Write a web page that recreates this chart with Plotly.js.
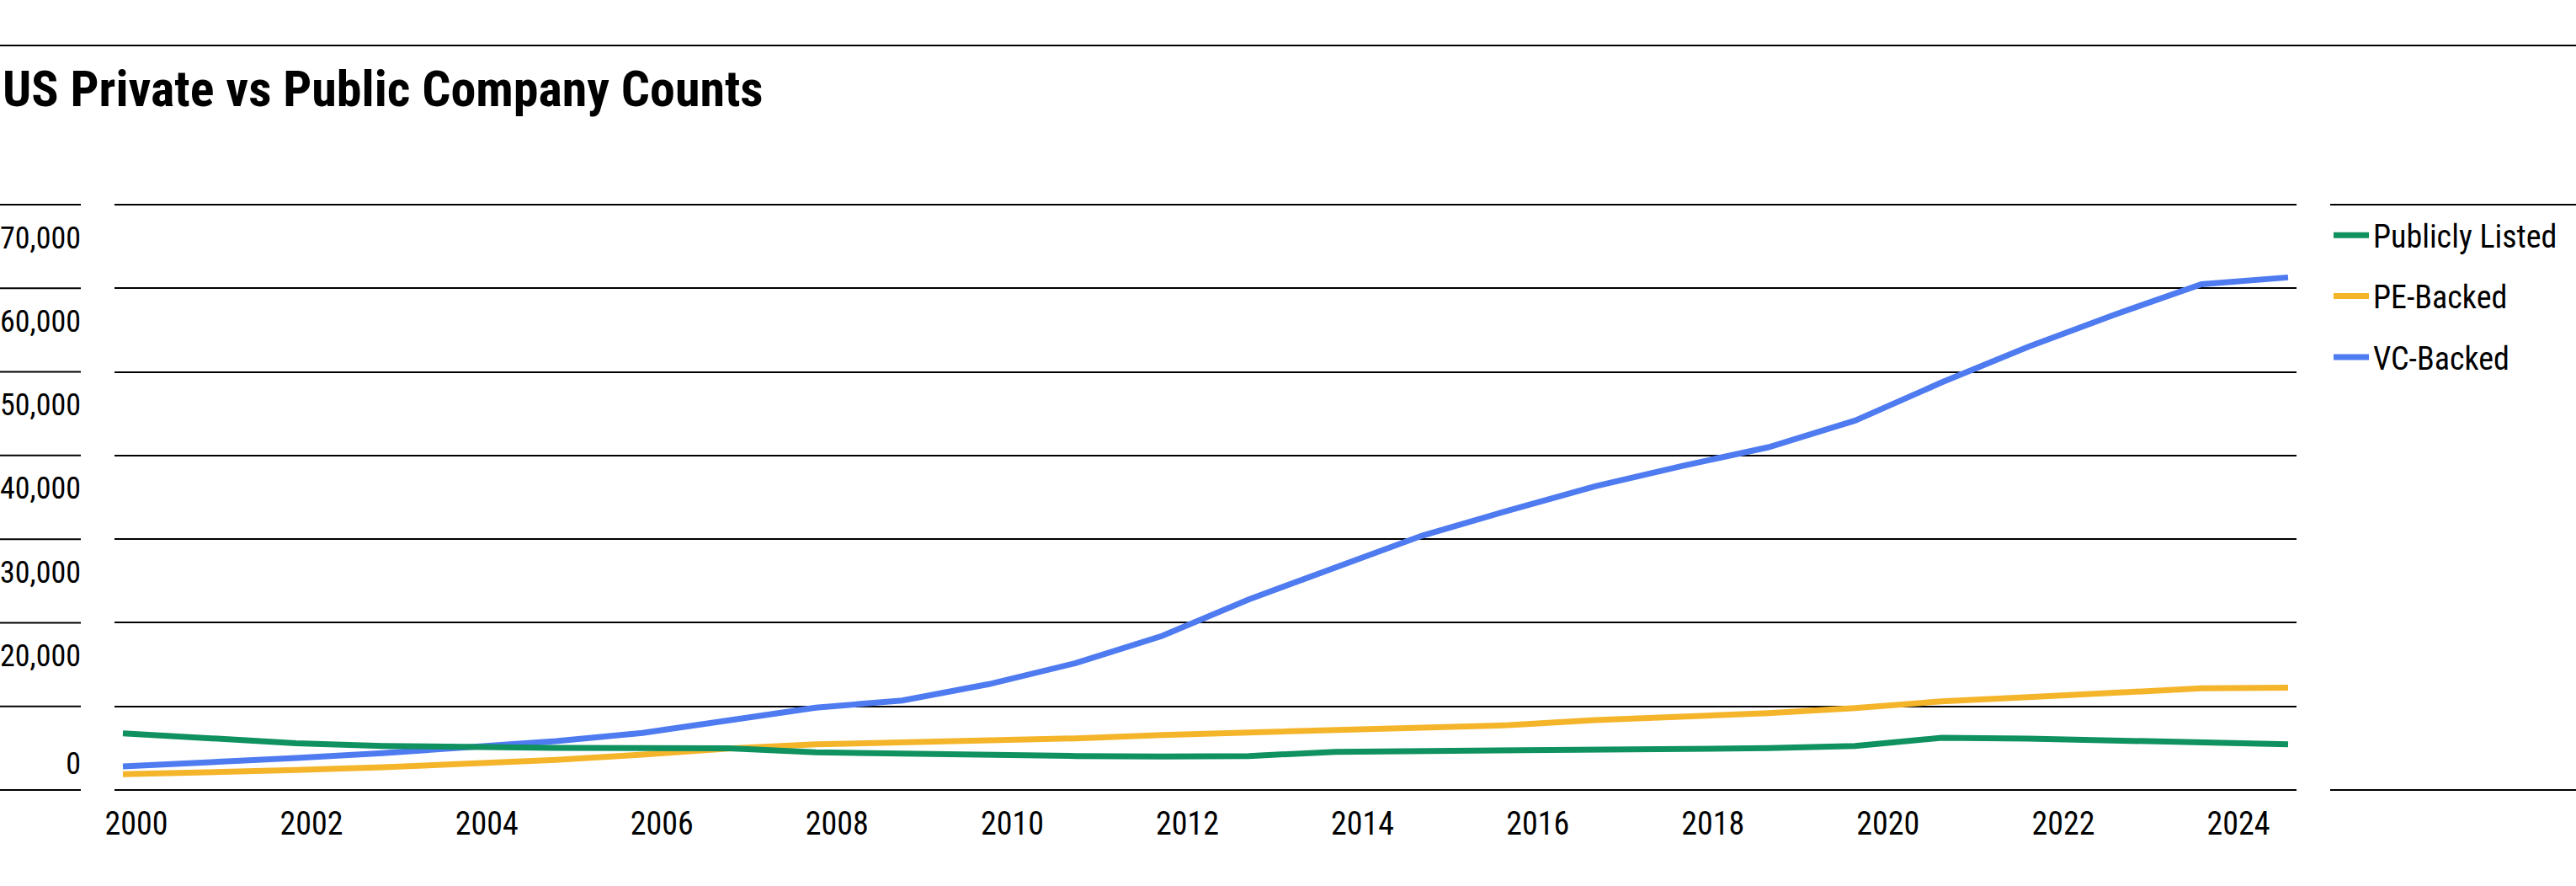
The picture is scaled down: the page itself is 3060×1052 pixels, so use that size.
<!DOCTYPE html>
<html>
<head>
<meta charset="utf-8">
<script src="https://cdn.plot.ly/plotly-3.0.1.min.js"></script>
<style>
html, body { margin: 0; padding: 0; background: #ffffff; }
#chart { width: 3060px; height: 1052px; }
</style>
</head>
<body>
<div id="chart"></div>
<script>
// ---------------- data ----------------
const years = [2000, 2001, 2002, 2003, 2004, 2005, 2006, 2007, 2008, 2009, 2010, 2011, 2012,
               2013, 2014, 2015, 2016, 2017, 2018, 2019, 2020, 2021, 2022, 2023, 2024, 2025];
const publiclyListed = [6780, 6170, 5600, 5270, 5100, 5040, 5000, 4980, 4500, 4330, 4160, 4060, 4000,
                        4060, 4570, 4630, 4670, 4770, 4930, 5000, 5270, 6240, 6140, 5940, 5740, 5470];
const peBacked = [1880, 2080, 2380, 2720, 3120, 3590, 4230, 4950, 5460, 5640, 5840, 6170, 6580,
                  6850, 7180, 7450, 7750, 8360, 8790, 9190, 9800, 10600, 11110, 11550, 12150, 12250];
const vcBacked = [2820, 3250, 3830, 4400, 5070, 5840, 6820, 8400, 9850, 10710, 12660, 15170, 18430,
                  22790, 26660, 30410, 33430, 36320, 38740, 40990, 44180, 48740, 53000, 56860, 60490, 61300];
const seriesNames = ['Publicly Listed', 'PE-Backed', 'VC-Backed'];
const xTickYears = [2000, 2002, 2004, 2006, 2008, 2010, 2012, 2014, 2016, 2018, 2020, 2022, 2024];
const yGridValues = [0, 10000, 20000, 30000, 40000, 50000, 60000, 70000];
const yLabelValues = [70000, 60000, 50000, 40000, 30000, 20000, 0];
const yLabelText = ['70,000', '60,000', '50,000', '40,000', '30,000', '20,000', '0'];
const titleText = 'US Private vs Public Company Counts';

// ---------------- geometry / style ----------------
const W = 3060, H = 1052;
const PLOT_L = 136, PLOT_R = 2728;
const GRID_TOP_PX = 243, GRID_ZERO_PX = 938;
const DOMAIN_TOP_PX = 200, DOMAIN_BOT_PX = 962;
const pxPerUnit = (GRID_ZERO_PX - GRID_TOP_PX) / 70000;
const yRange = [(GRID_ZERO_PX - DOMAIN_BOT_PX) / pxPerUnit, (GRID_ZERO_PX - DOMAIN_TOP_PX) / pxPerUnit];

const DATA_X0_PX = 146, DATA_X1_PX = 2718;
const pxPerYear = (DATA_X1_PX - DATA_X0_PX) / (years[years.length - 1] - years[0]);
const xRange = [years[0] - (DATA_X0_PX - PLOT_L) / pxPerYear,
                years[years.length - 1] + (PLOT_R - DATA_X1_PX) / pxPerYear];

const LAB_X0_PX = 162, LAB_X1_PX = 2659;
const labPxPerYear = (LAB_X1_PX - LAB_X0_PX) / (xTickYears[xTickYears.length - 1] - xTickYears[0]);
const x2Range = [xTickYears[0] - (LAB_X0_PX - PLOT_L) / labPxPerYear,
                 xTickYears[0] + (PLOT_R - LAB_X0_PX) / labPxPerYear];

const LABEL_DROP_PX = 39, ZERO_LABEL_PX = 906;
const yLabelPos = yLabelValues.map(v => v === 0
  ? (GRID_ZERO_PX - ZERO_LABEL_PX) / pxPerUnit
  : v - LABEL_DROP_PX / pxPerUnit);

const NARROW = '"Liberation Sans Narrow", "Arial Narrow", "Roboto Condensed", "DejaVu Sans Condensed", sans-serif';
const colors = { pub: '#0F9160', pe: '#F4B52B', vc: '#4F7BF1' };
const LINE_W = 7;

// traces drawn VC first so the green line sits on top; legend order set by legendrank
const traces = [
  { y: vcBacked, name: seriesNames[2], group: 'vc', rank: 3, color: colors.vc },
  { y: peBacked, name: seriesNames[1], group: 'pe', rank: 2, color: colors.pe },
  { y: publiclyListed, name: seriesNames[0], group: 'pub', rank: 1, color: colors.pub }
].map(t => ({
  type: 'scatter', mode: 'lines', x: years, y: t.y, name: t.name,
  legendgroup: t.group, legendrank: t.rank,
  line: { color: t.color, width: LINE_W, shape: 'linear' },
  xaxis: 'x', yaxis: 'y', hoverinfo: 'x+y+name'
}));
// empty carrier trace so the label-only axes (x2 / y2) are built
traces.push({ type: 'scatter', mode: 'lines', x: [], y: [], xaxis: 'x2', yaxis: 'y2',
              showlegend: false, hoverinfo: 'skip' });

const ruleStyle = { color: '#000000', width: 2 };
const shapes = [];
shapes.push({ type: 'line', xref: 'paper', yref: 'paper', x0: 0, x1: 1,
              y0: (H - 54) / H, y1: (H - 54) / H, line: ruleStyle });
yGridValues.forEach(v => shapes.push({ type: 'line', xref: 'paper', yref: 'y',
  x0: 0, x1: 96 / W, y0: v, y1: v, line: ruleStyle }));
[yGridValues[0], yGridValues[yGridValues.length - 1]].forEach(v => shapes.push({
  type: 'line', xref: 'paper', yref: 'y', x0: 2768 / W, x1: 1, y0: v, y1: v, line: ruleStyle }));

const layout = {
  width: W, height: H,
  margin: { l: 0, r: 0, t: 0, b: 0, pad: 0 },
  paper_bgcolor: '#ffffff', plot_bgcolor: 'rgba(0,0,0,0)',
  font: { family: NARROW, color: '#000000', size: 38 },
  title: {
    text: titleText, xref: 'container', yref: 'container',
    x: 0.001, xanchor: 'left', y: 1 - 105 / H, yanchor: 'middle',
    font: { family: NARROW, size: 60, weight: 700, color: '#000000' }
  },
  showlegend: true,
  legend: {
    x: 2767 / W, xanchor: 'left', y: 1 - 248 / H, yanchor: 'top',
    font: { family: NARROW, size: 38, color: '#000000' },
    traceorder: 'grouped', tracegroupgap: 20, itemwidth: 42,
    bgcolor: 'rgba(0,0,0,0)', borderwidth: 0
  },
  xaxis: {
    domain: [PLOT_L / W, PLOT_R / W], range: xRange, autorange: false,
    showgrid: false, zeroline: false, showticklabels: false, ticks: '', showline: false
  },
  yaxis: {
    domain: [(H - DOMAIN_BOT_PX) / H, (H - DOMAIN_TOP_PX) / H], range: yRange, autorange: false,
    tickmode: 'array', tickvals: yGridValues,
    showgrid: true, gridcolor: '#000000', gridwidth: 2,
    zeroline: false, showticklabels: false, ticks: '', showline: false
  },
  xaxis2: {
    overlaying: 'x', anchor: 'free', position: (H - 952) / H, side: 'bottom',
    range: x2Range, autorange: false, tickmode: 'array', tickvals: xTickYears,
    ticktext: xTickYears.map(String), showgrid: false, zeroline: false, ticks: '', showline: false,
    tickfont: { family: NARROW, size: 38, color: '#000000' }
  },
  yaxis2: {
    overlaying: 'y', anchor: 'free', position: 96 / W, side: 'left',
    range: yRange, autorange: false, tickmode: 'array', tickvals: yLabelPos, ticktext: yLabelText,
    showgrid: false, zeroline: false, ticks: '', showline: false,
    tickfont: { family: NARROW, size: 36, color: '#000000' }
  },
  shapes: shapes
};

Plotly.newPlot('chart', traces, layout, { staticPlot: true, displayModeBar: false });
</script>
</body>
</html>
